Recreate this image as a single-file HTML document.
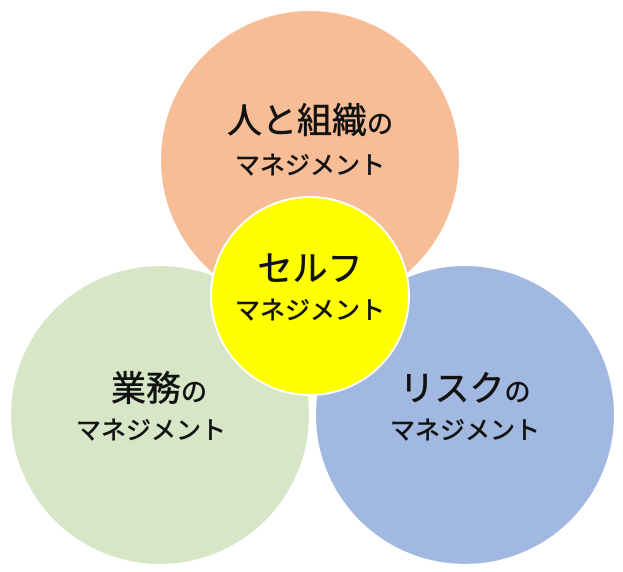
<!DOCTYPE html>
<html><head><meta charset="utf-8"><style>
html,body{margin:0;padding:0;background:#fff;}
body{width:623px;height:572px;position:relative;overflow:hidden;font-family:"Liberation Sans","Noto Sans CJK JP",sans-serif;color:#111;}
.c{position:absolute;border-radius:50%;border:2px solid #fff;box-sizing:border-box;}
.t{position:absolute;text-align:center;white-space:nowrap;-webkit-text-stroke:0.6px #111;}
.b{font-size:35px;line-height:35px;}
.b span{font-size:26px;}
.m{font-size:25px;line-height:25px;}
</style></head><body>
<div class="c" style="left:159px;top:9px;width:302px;height:302px;background:#f6bd97;"></div>
<div class="c" style="left:9px;top:264px;width:302px;height:302px;background:#d6e6c6;"></div>
<div class="c" style="left:314px;top:264px;width:302px;height:302px;background:#a1b8e0;"></div>
<div class="c" style="left:210px;top:196px;width:200px;height:200px;background:#ffff00;"></div>

<div class="t b" style="left:160px;width:300px;top:104px;">人と組織<span>の</span></div>
<div class="t m" style="left:160px;width:300px;top:154px;">マネジメント</div>

<div class="t b" style="left:210px;width:200px;top:252px;">セルフ</div>
<div class="t m" style="left:210px;width:200px;top:299px;">マネジメント</div>

<div class="t b" style="left:9px;width:300px;top:372px;">業務<span>の</span></div>
<div class="t m" style="left:1px;width:300px;top:419px;">マネジメント</div>

<div class="t b" style="left:315px;width:300px;top:372px;">リスク<span>の</span></div>
<div class="t m" style="left:315px;width:300px;top:419px;">マネジメント</div>
</body></html>
